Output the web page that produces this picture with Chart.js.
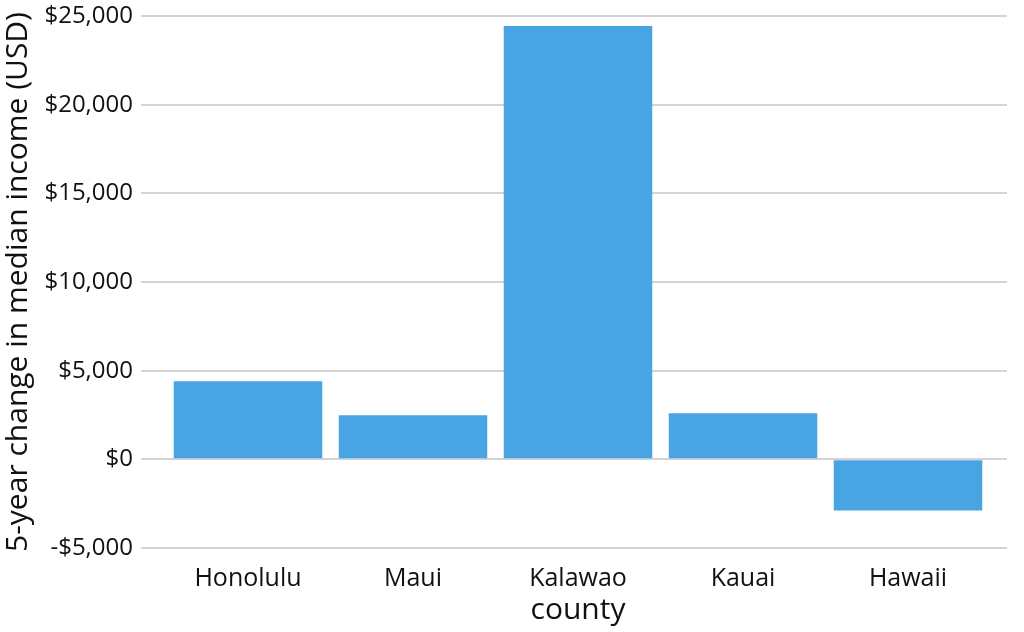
<!DOCTYPE html>
<html>
<head>
<meta charset="utf-8">
<script src="https://cdn.jsdelivr.net/npm/chart.js@4/dist/chart.umd.min.js"></script>
<style>
  html, body { margin: 0; padding: 0; background: #fff; }
  #wrap { width: 1024px; height: 632px; }
</style>
</head>
<body>
<div id="wrap"><canvas id="myChart"></canvas></div>
<script>
const counties = ['Honolulu', 'Maui', 'Kalawao', 'Kauai', 'Hawaii'];
const incomeChange = [4400, 2480, 24440, 2600, -2880];
const yTicks = [-5000, 0, 5000, 10000, 15000, 20000, 25000];

const fontFamily = '"Open Sans", "Noto Sans", sans-serif';

var ctx = document.getElementById('myChart').getContext('2d');
new Chart(ctx, {
    type: 'bar',
    data: {
        datasets: [{
            data: incomeChange.map((v, i) => ({ x: i + 1, y: v })),
            backgroundColor: 'rgb(73, 164, 227)',
            borderWidth: 0,
            categoryPercentage: 1,
            barPercentage: 0.9
        }]
    },
    options: {
        responsive: true,
        maintainAspectRatio: false,
        animation: false,
        layout: { padding: { top: 16, right: 17, left: 0, bottom: 0 } },
        plugins: { legend: { display: false }, tooltip: { enabled: false } },
        scales: {
            x: {
                type: 'linear',
                offset: false,
                min: 0.4,
                max: 5.6,
                afterBuildTicks: scale => { scale.ticks = counties.map((c, i) => ({ value: i + 1 })); },
                afterFit: scale => { scale.height = 84; },
                grid: { display: false, drawTicks: false, tickLength: 0 },
                border: { display: false },
                ticks: {
                    callback: v => counties[v - 1] || '',
                    color: '#111',
                    font: { family: fontFamily, size: 25 },
                    padding: 16,
                    maxRotation: 0,
                    autoSkip: false
                },
                title: {
                    display: true,
                    text: 'county',
                    color: '#111',
                    font: { family: fontFamily, size: 30 },
                    padding: { top: 0, bottom: 4 }
                }
            },
            y: {
                min: -5000,
                max: 25000,
                afterBuildTicks: scale => { scale.ticks = yTicks.map(v => ({ value: v })); },
                afterFit: scale => {
                    scale.width = 149;
                    scale.paddingTop = 0;
                    scale.paddingBottom = 0;
                },
                grid: { color: '#d3d3d3', lineWidth: 2, tickLength: 8 },
                border: { display: false },
                ticks: {
                    callback: v => (v < 0 ? '-$' : '$') + Math.abs(v).toLocaleString('en-US'),
                    color: '#111',
                    font: { family: fontFamily, size: 24 },
                    padding: 8
                },
                title: {
                    display: true,
                    text: '5-year change in median income (USD)',
                    color: '#111',
                    font: { family: fontFamily, size: 30 },
                    padding: { top: 0, bottom: 0 }
                }
            }
        }
    }
});
</script>
</body>
</html>
